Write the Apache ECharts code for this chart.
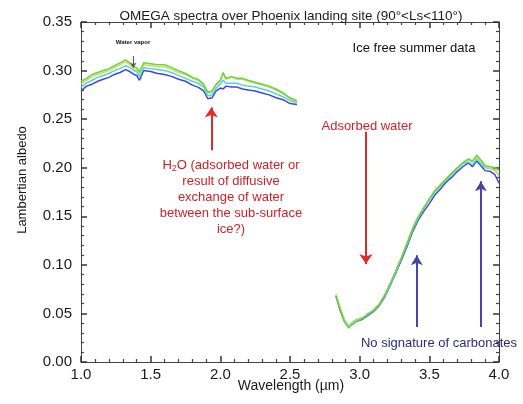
<!DOCTYPE html>
<html><head><meta charset="utf-8">
<script src="https://cdn.jsdelivr.net/npm/echarts@6/dist/echarts.min.js"></script>
<style>html,body{margin:0;padding:0;background:#fff}#c{width:523px;height:404px}</style>
</head><body><div id="c"></div>
<script>
// Wavelength (µm) sample points, segment 1 (1.0–2.55) and segment 2 (2.83–4.0)
var x1 = [1.00,1.04,1.08,1.12,1.16,1.20,1.24,1.28,1.32,1.35,1.38,1.40,1.42,1.45,1.50,1.55,1.60,1.65,1.70,1.75,1.80,1.84,1.88,1.91,1.94,1.97,2.00,2.02,2.04,2.08,2.12,2.16,2.20,2.25,2.30,2.35,2.40,2.45,2.50,2.55];
var blue1 = [0.279,0.284,0.286,0.289,0.291,0.293,0.296,0.298,0.301,0.299,0.296,0.295,0.290,0.300,0.299,0.297,0.296,0.294,0.291,0.289,0.285,0.283,0.279,0.271,0.272,0.279,0.282,0.281,0.284,0.283,0.283,0.281,0.280,0.279,0.277,0.275,0.272,0.270,0.266,0.265];
var cyan1 = [0.283,0.287,0.290,0.293,0.295,0.297,0.300,0.302,0.305,0.303,0.300,0.299,0.294,0.303,0.302,0.301,0.300,0.298,0.295,0.292,0.289,0.287,0.283,0.274,0.275,0.282,0.286,0.290,0.287,0.287,0.287,0.285,0.284,0.283,0.281,0.279,0.276,0.273,0.269,0.267];
var yellow1 = [0.286,0.290,0.294,0.296,0.298,0.300,0.303,0.306,0.309,0.306,0.302,0.301,0.297,0.306,0.305,0.304,0.304,0.301,0.298,0.296,0.292,0.290,0.285,0.277,0.278,0.285,0.289,0.297,0.291,0.293,0.291,0.291,0.289,0.287,0.285,0.283,0.280,0.276,0.271,0.268];
var green1 = [0.289,0.292,0.296,0.298,0.300,0.302,0.305,0.308,0.311,0.308,0.304,0.303,0.299,0.308,0.307,0.306,0.306,0.303,0.300,0.297,0.293,0.291,0.286,0.278,0.279,0.286,0.290,0.298,0.292,0.294,0.292,0.292,0.290,0.288,0.286,0.284,0.281,0.277,0.272,0.269];

var x2 = [2.83,2.86,2.89,2.92,2.95,2.98,3.02,3.06,3.10,3.14,3.18,3.22,3.26,3.30,3.34,3.38,3.42,3.46,3.50,3.54,3.58,3.62,3.66,3.70,3.74,3.78,3.81,3.84,3.87,3.90,3.94,3.97,4.00];
var blue2 = [0.068,0.053,0.042,0.036,0.039,0.042,0.044,0.048,0.052,0.058,0.067,0.079,0.092,0.105,0.119,0.134,0.146,0.155,0.163,0.172,0.178,0.185,0.190,0.196,0.201,0.205,0.201,0.207,0.202,0.197,0.196,0.193,0.184];
var cyan2 = [0.069,0.055,0.043,0.037,0.041,0.044,0.045,0.050,0.053,0.059,0.068,0.080,0.093,0.107,0.121,0.136,0.148,0.158,0.167,0.175,0.181,0.187,0.193,0.199,0.204,0.206,0.203,0.209,0.204,0.200,0.199,0.198,0.192];
var yellow2 = [0.070,0.056,0.044,0.036,0.040,0.043,0.046,0.049,0.054,0.060,0.069,0.081,0.094,0.108,0.123,0.138,0.150,0.159,0.168,0.177,0.183,0.189,0.195,0.200,0.205,0.208,0.206,0.211,0.207,0.201,0.199,0.197,0.193];
var green2 = [0.068,0.054,0.042,0.035,0.039,0.042,0.045,0.049,0.053,0.059,0.069,0.081,0.094,0.107,0.122,0.137,0.149,0.159,0.168,0.176,0.182,0.188,0.194,0.200,0.205,0.209,0.207,0.213,0.208,0.202,0.201,0.200,0.197];

// Annotation arrows (data coordinates): [x, yFrom, yTo]
var redArrows = [[1.935, 0.218, 0.262], [3.045, 0.237, 0.101]];
var blueArrows = [[3.41, 0.036, 0.110], [3.87, 0.036, 0.186]];

var FONT = '"Liberation Sans", Arial, sans-serif';
function pairs(xs, ys){ return xs.map(function(x,i){ return [x, ys[i]]; }); }

var colors = {blue:'#4444d8', cyan:'#4cd2f4', yellow:'#d8d84a', green:'#66d448'};
var series = [];
[['blue',blue1,blue2],['cyan',cyan1,cyan2],['yellow',yellow1,yellow2],['green',green1,green2]].forEach(function(s){
  [[x1,s[1]],[x2,s[2]]].forEach(function(seg){
    series.push({type:'line', xAxisIndex:0, yAxisIndex:0, data: pairs(seg[0], seg[1]), showSymbol:false, symbol:'none',
      lineStyle:{color:colors[s[0]], width:1.5}, itemStyle:{color:colors[s[0]]}, silent:true});
  });
});
function arrowLines(list){
  return list.map(function(a){ return [{coord:[a[0],a[1]]}, {coord:[a[0],a[2]]}]; });
}
series.push({type:'line', xAxisIndex:0, yAxisIndex:0, data:[], markLine:{silent:true, animation:false, symbol:['none','arrow'], symbolSize:[10,10],
  label:{show:false}, lineStyle:{color:'#e02b2b',width:2,type:'solid'}, data: arrowLines(redArrows)}});
series.push({type:'line', xAxisIndex:0, yAxisIndex:0, data:[], markLine:{silent:true, animation:false, symbol:['none','arrow'], symbolSize:[9,10],
  label:{show:false}, lineStyle:{color:'#4646a8',width:2,type:'solid'}, data: arrowLines(blueArrows)}});
series.push({type:'line', xAxisIndex:0, yAxisIndex:0, data:[], markLine:{silent:true, animation:false, symbol:['none','arrow'], symbolSize:[5,5],
  label:{show:false}, lineStyle:{color:'#555',width:1,type:'solid'}, data: [[{coord:[1.375,0.315]},{coord:[1.375,0.303]}]]}});

function tick(){ return {show:true, inside:true, length:6, lineStyle:{color:'#333', width:1.5}}; }
function mtick(){ return {show:true, splitNumber:5, length:3, lineStyle:{color:'#444', width:1.2}}; }
function aline(){ return {show:true, onZero:false, lineStyle:{color:'#444', width:1}}; }

var chart = echarts.init(document.getElementById('c'));
chart.setOption({
  animation:false,
  backgroundColor:'#ffffff',
  grid:{left:81, right:24, top:22, bottom:42},
  xAxis:[
    {type:'value', min:1, max:4, interval:0.5, position:'bottom', axisLine:aline(), axisTick:tick(), minorTick:mtick(), splitLine:{show:false},
      axisLabel:{fontSize:15, color:'#1a1a1a', fontFamily:FONT, margin:5, formatter:function(v){ return v.toFixed(1); }}},
    {type:'value', min:1, max:4, interval:0.5, position:'top', axisLine:aline(), axisTick:tick(), minorTick:mtick(), splitLine:{show:false},
      axisLabel:{show:false}}
  ],
  yAxis:[
    {type:'value', min:0, max:0.35, interval:0.05, position:'left', axisLine:aline(), axisTick:tick(), minorTick:mtick(), splitLine:{show:false},
      axisLabel:{fontSize:15, color:'#1a1a1a', fontFamily:FONT, margin:9, formatter:function(v){ return v.toFixed(2); }}},
    {type:'value', min:0, max:0.35, interval:0.05, position:'right', axisLine:aline(), axisTick:tick(), minorTick:mtick(), splitLine:{show:false},
      axisLabel:{show:false}}
  ],
  series: series,
  graphic:[
    {type:'text', style:{text:'OMEGA spectra over Phoenix landing site (90°<Ls<110°)', x:291, y:16, align:'center', verticalAlign:'middle', font:'13.5px '+FONT, fill:'#1a1a1a'}, z:10},
    {type:'text', style:{text:'Ice free summer data', x:414, y:48, align:'center', verticalAlign:'middle', font:'13px '+FONT, fill:'#111'}, z:10},
    {type:'text', style:{text:'Water vapor', x:133, y:42, align:'center', verticalAlign:'middle', font:'bold 6px '+FONT, fill:'#111'}, z:10},
    {type:'text', rotation:Math.PI/2, x:22, y:180, style:{text:'Lambertian albedo', align:'center', verticalAlign:'middle', font:'13px '+FONT, fill:'#1a1a1a'}, z:10},
    {type:'text', style:{text:'Wavelength (µm)', x:291, y:386, align:'center', verticalAlign:'middle', font:'14px '+FONT, fill:'#1a1a1a'}, z:10},
    {type:'text', style:{text:'Adsorbed water', x:367, y:126, align:'center', verticalAlign:'middle', font:'13px '+FONT, fill:'#c8232b'}, z:10},
    {type:'text', style:{text:'No signature of carbonates', x:439, y:343, align:'center', verticalAlign:'middle', font:'13px '+FONT, fill:'#2b2b7a'}, z:10},
    {type:'text', style:{
      text:'H{s|2}O (adsorbed water or\nresult of diffusive\nexchange of water\nbetween the sub-surface\nice?)',
      x:231, y:157, align:'center', verticalAlign:'top', font:'13px '+FONT, fill:'#c8232b', lineHeight:16,
      rich:{s:{font:'9px '+FONT, fill:'#c8232b', verticalAlign:'bottom', padding:[6,0,0,0]}}
    }, z:10}
  ]
});
</script></body></html>
